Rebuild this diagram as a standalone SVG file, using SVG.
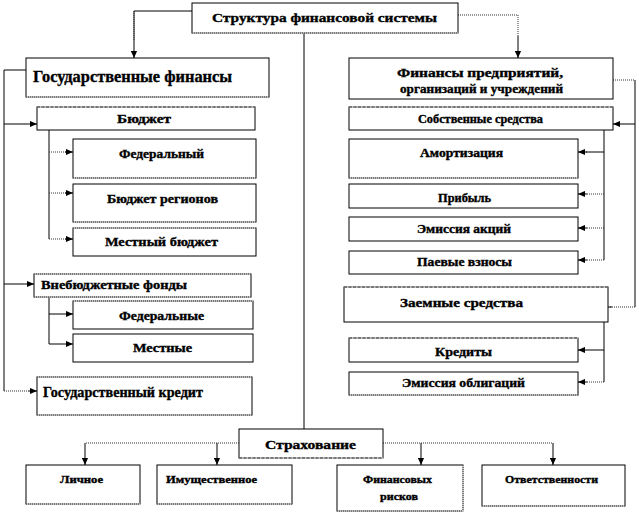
<svg xmlns="http://www.w3.org/2000/svg" width="639" height="514" viewBox="0 0 639 514">
<defs>
<marker id="ah" viewBox="0 0 8 8" markerWidth="7" markerHeight="7" refX="8" refY="4" orient="auto" markerUnits="userSpaceOnUse">
<path d="M0,0.5 L8,4 L0,7.5 z" fill="#000"/>
</marker>
<style>
.bx{fill:#fff;stroke:#000;stroke-width:1}
.de{fill:none;stroke:#fff;stroke-width:1.2}
.dd{fill:none;stroke:#333;stroke-width:1;stroke-dasharray:1 1}
.ds{fill:none;stroke:#333;stroke-width:1;stroke-dasharray:3 1.5}
.c{fill:none;stroke:#000;stroke-width:1}
.cd{fill:none;stroke:#333;stroke-width:1;stroke-dasharray:1 1}
.a{marker-end:url(#ah)}
text{font-family:'Liberation Serif','DejaVu Serif','Times New Roman',serif;font-weight:bold;fill:#000;stroke:#000;stroke-width:0.35}
.t12{font-size:12px}
.t13{font-size:13px}
.t10{font-size:10px}
</style>
</defs>
<rect width="639" height="514" fill="#fff"/>

<g id="connectors">
<path class="c" d="M192,11 H134 V40"/>
<path class="cd" d="M134,11 V40"/>
<path class="c a" d="M134,40 V58"/>
<path class="cd" d="M458,15 H518 V36"/>
<path class="c a" d="M518,36 V58"/>
<path class="c" d="M304,33 V429"/>
<path class="c" d="M26,70 H4 V391"/>
<path class="c a" d="M4,124 H37"/>
<path class="c a" d="M4,284 H34"/>
<path class="cd" d="M4,391 H28"/>
<path class="c a" d="M28,391 H37"/>
<path class="c" d="M49,130 V239"/>
<path class="cd" d="M49,152 H66"/><path class="c a" d="M65,152 H73"/>
<path class="cd" d="M49,193 H66"/><path class="c a" d="M65,193 H73"/>
<path class="cd" d="M49,239 H66"/><path class="c a" d="M65,239 H73"/>
<path class="c" d="M49,297 V344"/>
<path class="c a" d="M49,314 H73"/>
<path class="c a" d="M49,344 H73"/>
<path class="cd" d="M613,80 H635"/>
<path class="c" d="M635,80 V307"/>
<path class="c a" d="M635,124 H613"/>
<path class="cd" d="M635,307 H610"/><path class="c a" d="M612,307 H601"/>
<path class="c" d="M604,130 V260"/>
<path class="c" d="M604,152 H586"/><path class="c a" d="M587,152 H578"/>
<path class="cd" d="M604,194 H586"/><path class="c a" d="M587,194 H578"/>
<path class="cd" d="M604,228 H586"/><path class="c a" d="M587,228 H578"/>
<path class="cd" d="M604,260 H586"/><path class="c a" d="M587,260 H578"/>
<path class="c" d="M604,322 V382"/>
<path class="c a" d="M604,350 H578"/>
<path class="cd" d="M604,382 H586"/><path class="c a" d="M587,382 H578"/>
<path class="cd" d="M239,443 H85"/>
<path class="c a" d="M85,443 V465"/>
<path class="c a" d="M217,443 V465"/>
<path class="cd" d="M383,443 H553"/>
<path class="c a" d="M553,443 V465"/>
<path class="c a" d="M421,443 V465"/>
</g>

<g id="n-root">
<rect class="bx" x="192" y="3" width="266" height="30"/>
<path class="de" d="M192,33 H458"/><path class="dd" d="M192,33 H458"/>
<text class="t13" x="212" y="22" textLength="225" lengthAdjust="spacingAndGlyphs">Структура финансовой системы</text>
</g>

<g id="n-gosfin">
<rect class="bx" x="26" y="58" width="243" height="39"/>
<path class="de" d="M26,97 H269"/><path class="dd" d="M26,97 H269"/>
<text x="33" y="82" style="font-size:16px" textLength="199" lengthAdjust="spacingAndGlyphs">Государственные финансы</text>
</g>

<g id="n-predpr">
<rect class="bx" x="349" y="58" width="264" height="41"/>
<text class="t12" x="397" y="77" textLength="166" lengthAdjust="spacingAndGlyphs">Финансы предприятий,</text>
<text class="t12" x="400" y="93" textLength="163" lengthAdjust="spacingAndGlyphs">организаций и учреждений</text>
</g>

<g id="n-budget">
<rect class="bx" x="37" y="107" width="218" height="23"/>
<path class="de" d="M37,107 H255"/><path class="ds" d="M37,107 H255"/>
<text class="t12" x="117" y="123" textLength="54" lengthAdjust="spacingAndGlyphs">Бюджет</text>
</g>

<g id="n-sobstv">
<rect class="bx" x="349" y="107" width="264" height="23"/>
<path class="de" d="M349,107 H613"/><path class="ds" d="M349,107 H613"/>
<text class="t12" x="418" y="123" textLength="125" lengthAdjust="spacingAndGlyphs">Собственные средства</text>
</g>

<g id="n-federal">
<rect class="bx" x="73" y="139" width="183" height="39"/>
<path class="de" d="M73,178 H256"/><path class="dd" d="M73,178 H256"/>
<text class="t12" x="119" y="158" textLength="85" lengthAdjust="spacingAndGlyphs">Федеральный</text>
</g>

<g id="n-region">
<rect class="bx" x="73" y="184" width="183" height="38"/>
<path class="de" d="M73,222 H256"/><path class="dd" d="M73,222 H256"/>
<text class="t12" x="107" y="203" textLength="111" lengthAdjust="spacingAndGlyphs">Бюджет регионов</text>
</g>

<g id="n-local">
<rect class="bx" x="73" y="228" width="183" height="28"/>
<path class="de" d="M73,228 H256"/><path class="dd" d="M73,228 H256"/>
<text class="t13" x="105" y="246" textLength="113" lengthAdjust="spacingAndGlyphs">Местный бюджет</text>
</g>

<g id="n-amort">
<rect class="bx" x="349" y="139" width="229" height="39"/>
<path class="de" d="M349,178 H578"/><path class="dd" d="M349,178 H578"/>
<text class="t12" x="420" y="157" textLength="83" lengthAdjust="spacingAndGlyphs">Амортизация</text>
</g>

<g id="n-pribyl">
<rect class="bx" x="349" y="184" width="229" height="24"/>
<text class="t12" x="438" y="202" textLength="53" lengthAdjust="spacingAndGlyphs">Прибыль</text>
</g>

<g id="n-akcii">
<rect class="bx" x="349" y="217" width="229" height="24"/>
<text class="t12" x="417" y="233" textLength="94" lengthAdjust="spacingAndGlyphs">Эмиссия акций</text>
</g>

<g id="n-paevye">
<rect class="bx" x="349" y="251" width="229" height="23"/>
<text class="t12" x="417" y="266" textLength="95" lengthAdjust="spacingAndGlyphs">Паевые взносы</text>
</g>

<g id="n-vnebudg">
<rect class="bx" x="34" y="274" width="217" height="23"/>
<path class="de" d="M34,274 H251 M34,297 H251"/><path class="dd" d="M34,274 H251 M34,297 H251"/>
<text class="t12" x="41" y="289" textLength="146" lengthAdjust="spacingAndGlyphs">Внебюджетные фонды</text>
</g>

<g id="n-federalnye">
<rect class="bx" x="73" y="301" width="180" height="28"/>
<path class="de" d="M73,301 H253"/><path class="dd" d="M73,301 H253"/>
<text class="t12" x="119" y="320" textLength="85" lengthAdjust="spacingAndGlyphs">Федеральные</text>
</g>

<g id="n-mestnye">
<rect class="bx" x="73" y="334" width="180" height="28"/>
<text class="t12" x="133" y="352" textLength="59" lengthAdjust="spacingAndGlyphs">Местные</text>
</g>

<g id="n-goskredit">
<rect class="bx" x="37" y="377" width="215" height="38"/>
<path class="de" d="M37,377 H252 M37,415 H252"/><path class="dd" d="M37,377 H252 M37,415 H252"/>
<text x="43" y="397" style="font-size:14px" textLength="160" lengthAdjust="spacingAndGlyphs">Государственный кредит</text>
</g>

<g id="n-zaemnye">
<rect class="bx" x="344" y="287" width="264" height="35"/>
<path class="de" d="M344,287 H608"/><path class="ds" d="M344,287 H608"/>
<text class="t12" x="400" y="307" textLength="123" lengthAdjust="spacingAndGlyphs">Заемные средства</text>
</g>

<g id="n-kredity">
<rect class="bx" x="349" y="338" width="229" height="24"/>
<path class="de" d="M349,338 H578"/><path class="ds" d="M349,338 H578"/>
<text class="t12" x="435" y="356" textLength="57" lengthAdjust="spacingAndGlyphs">Кредиты</text>
</g>

<g id="n-obligacii">
<rect class="bx" x="349" y="372" width="229" height="23"/>
<path class="de" d="M349,395 H578"/><path class="dd" d="M349,395 H578"/>
<text class="t12" x="402" y="387" textLength="123" lengthAdjust="spacingAndGlyphs">Эмиссия облигаций</text>
</g>

<g id="n-strah">
<rect class="bx" x="239" y="429" width="144" height="29"/>
<path class="de" d="M239,458 H383"/><path class="ds" d="M239,458 H383"/>
<text class="t13" x="265" y="449" textLength="91" lengthAdjust="spacingAndGlyphs">Страхование</text>
</g>

<g id="n-lichnoe">
<rect class="bx" x="26" y="465" width="114" height="39"/>
<path class="de" d="M26,504 H140"/><path class="dd" d="M26,504 H140"/>
<text class="t10" x="60" y="483" textLength="43" lengthAdjust="spacingAndGlyphs">Личное</text>
</g>

<g id="n-imush">
<rect class="bx" x="157" y="465" width="135" height="39"/>
<path class="de" d="M157,504 H292"/><path class="dd" d="M157,504 H292"/>
<text class="t10" x="166" y="483" textLength="91" lengthAdjust="spacingAndGlyphs">Имущественное</text>
</g>

<g id="n-finrisk">
<rect class="bx" x="337" y="465" width="126" height="46"/>
<path class="de" d="M337,511 H463 M463,465 V511"/><path class="dd" d="M337,511 H463 M463,465 V511"/>
<text class="t10" x="363" y="483" textLength="69" lengthAdjust="spacingAndGlyphs">Финансовых</text>
<text class="t10" x="380" y="500" textLength="38" lengthAdjust="spacingAndGlyphs">рисков</text>
</g>

<g id="n-otvet">
<rect class="bx" x="482" y="465" width="143" height="41"/>
<path class="de" d="M482,506 H625"/><path class="dd" d="M482,506 H625"/>
<text class="t10" x="505" y="483" textLength="93" lengthAdjust="spacingAndGlyphs">Ответственности</text>
</g>
</svg>
